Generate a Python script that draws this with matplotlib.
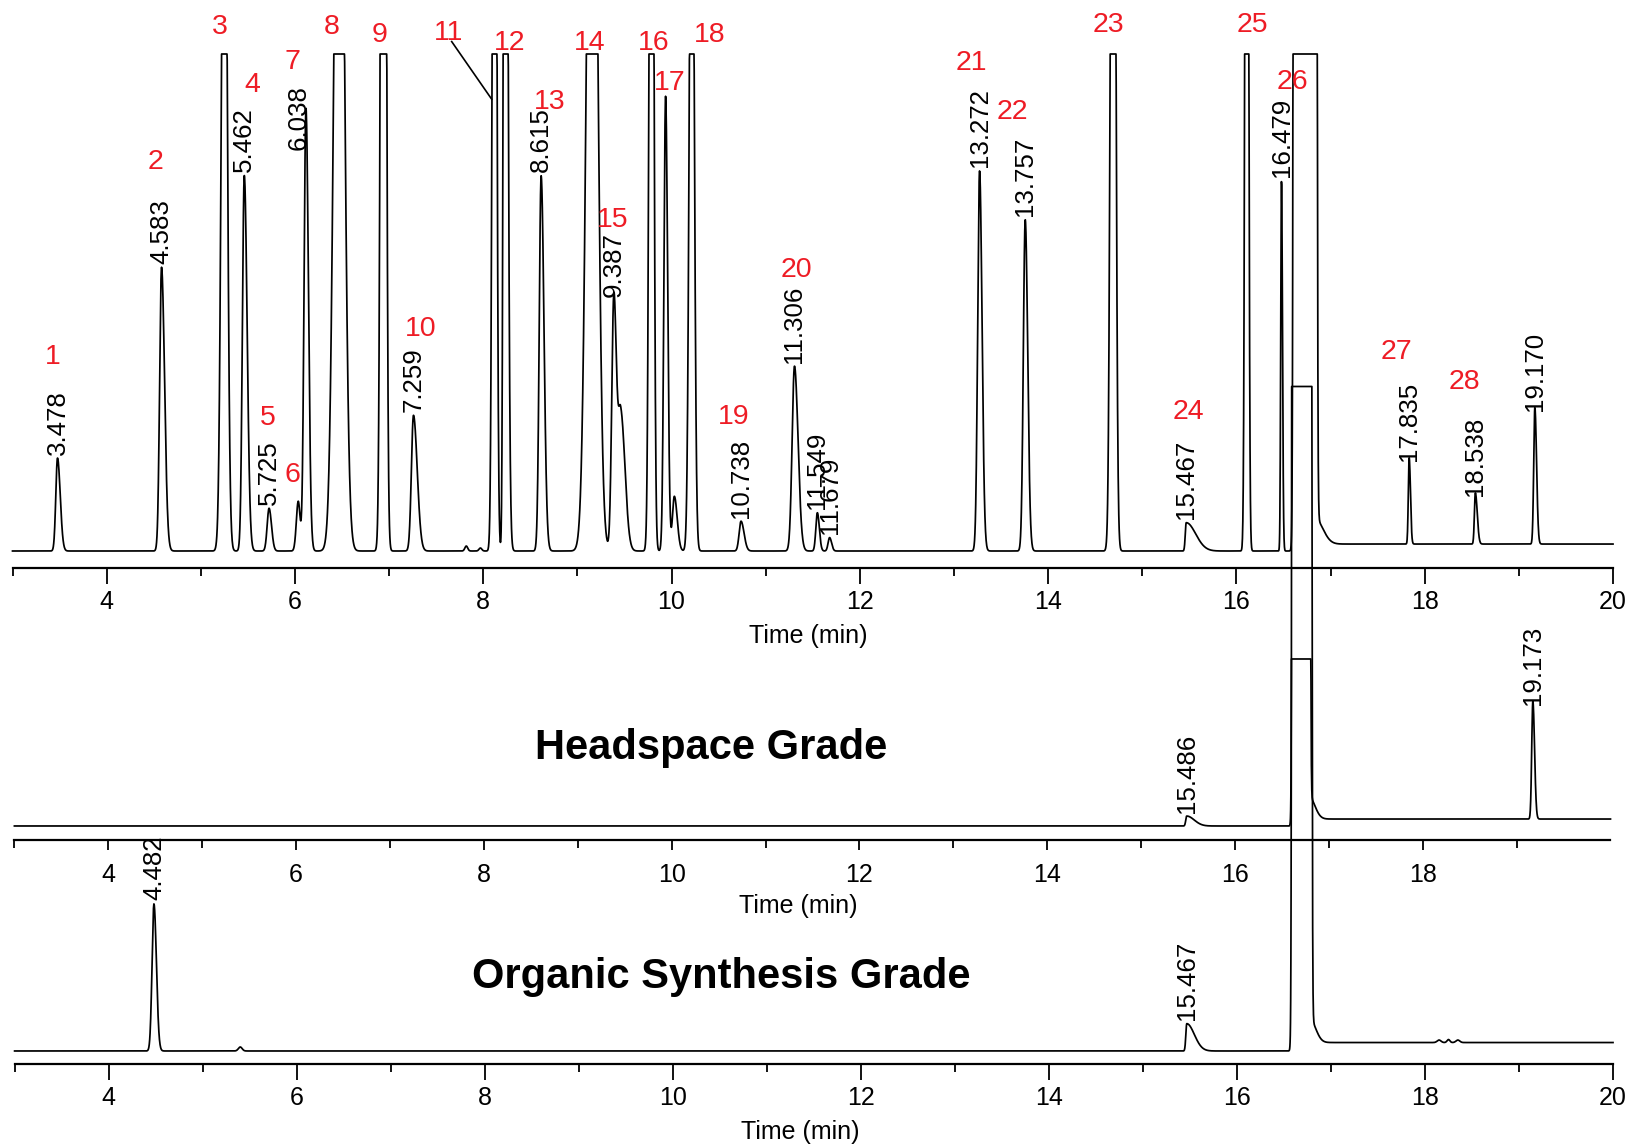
import numpy as np
import matplotlib
matplotlib.use("Agg")
import matplotlib.pyplot as plt
from matplotlib.ticker import FixedLocator

plt.rcParams['font.family'] = ['Liberation Sans', 'DejaVu Sans']

# ---- peak tables (time in min, height in display units) ----
# top: 28-component standard (clip level of the display = 100)
top_rt = [3.478, 4.583, 5.25, 5.462, 5.725, 6.035, 6.117, 6.47, 6.94, 7.259,
          7.82, 7.97, 8.12, 8.23, 8.615, 9.157, 9.387, 9.46, 9.787, 9.937,
          10.03, 10.215, 10.738, 11.306, 11.549, 11.679, 13.272, 13.757, 14.69,
          15.467, 16.11, 16.479, 16.73, 16.84, 17.835, 18.538, 19.17]
top_height = [18.7, 57.1, 178, 75.6, 8.6, 10.0, 89.1, 198, 395, 27.3,
              1.0, 0.6, 282, 300, 75.5, 203, 50.5, 28, 266, 91.5,
              11, 178, 6.0, 37.2, 7.7, 2.7, 76.5, 66.7, 275,
              5.7, 340, 74.5, 1e8, 5.0, 17.4, 10.3, 27.5]
top_sigma = [0.018, 0.02, 0.028, 0.02, 0.02, 0.02, 0.02, 0.049, 0.0217, 0.022,
             0.015, 0.015, 0.0188, 0.0135, 0.02, 0.052, 0.022, 0.03, 0.02, 0.018,
             0.02, 0.0233, 0.02, 0.025, 0.016, 0.016, 0.02, 0.02, 0.0225,
             0.01, 0.0147, 0.008, 0.0247, 0.005, 0.009, 0.01, 0.012]
top_tail = [1.6, 1.6, 1.0, 1.5, 1.3, 1.0, 1.3, 1.0, 1.0, 1.8,
            1.0, 1.0, 1.0, 1.8, 1.5, 1.0, 1.2, 1.5, 1.0, 1.2,
            1.5, 1.0, 1.6, 1.5, 1.3, 1.3, 1.3, 1.3, 1.0,
            10, 1.0, 1.3, 1.0, 16, 1.5, 2.0, 1.5]
top_clip = 100
top_solvent = 16.73
top_base_after = 1.4

# headspace grade
mid_rt = [15.486, 16.705, 16.79, 19.173]
mid_height = [2.0, 1e8, 4.5, 23.7]
mid_sigma = [0.01, 0.019, 0.005, 0.012]
mid_tail = [8, 1.0, 12, 1.5]
mid_clip = 33.6
mid_solvent = 16.705
mid_base_after = 1.4

# organic synthesis grade
bot_rt = [4.482, 5.40, 15.467, 16.69, 16.78, 18.15, 18.25, 18.35]
bot_height = [29.6, 0.8, 5.5, 1e8, 4.5, 0.5, 0.6, 0.5]
bot_sigma = [0.02, 0.02, 0.01, 0.0208, 0.005, 0.02, 0.015, 0.02]
bot_tail = [1.3, 1.0, 8, 1.0, 12, 1.0, 1.0, 1.0]
bot_clip = 133.7
bot_solvent = 16.69
bot_base_after = 1.7

# retention time labels (text, height of label foot)
top_rt_labels = ['3.478', '4.583', '5.462', '5.725', '6.038', '7.259', '8.615',
                 '9.387', '10.738', '11.306', '11.549', '11.679', '13.272',
                 '13.757', '15.467', '16.479', '17.835', '18.538', '19.170']
top_rt_label_h = [18.7, 57.1, 75.6, 8.6, 79.9, 27.3, 75.5, 50.5, 6.0, 37.2,
                  7.7, 2.7, 76.5, 66.7, 5.7, 74.5, 17.4, 10.3, 27.5]
mid_rt_labels = ['15.486', '19.173']
mid_rt_label_h = [2.0, 23.7]
bot_rt_labels = ['4.482', '15.467']
bot_rt_label_h = [29.6, 5.5]

# red peak numbers
num_t = [3.425, 4.524, 5.204, 5.542, 5.713, 5.969, 5.969, 6.394, 6.903, 7.339,
         7.629, 8.284, 8.709, 9.134, 9.380, 9.809, 9.976, 10.404, 10.659, 11.332,
         13.185, 13.621, 14.645, 15.492, 16.174, 16.597, 17.703, 18.420]
num_h = [39.0, 78.2, 105.5, 93.8, 26.8, 15.3, 98.3, 105.5, 103.9, 44.7,
         104.2, 102.2, 90.4, 102.2, 66.5, 102.2, 94.2, 103.9, 27.0, 56.5,
         98.1, 88.4, 105.8, 28.0, 105.8, 94.4, 40.1, 34.1]
leader_11 = ([7.665, 8.09], [102.5, 90.9])

time = np.linspace(3, 20, 8000)


def build_trace(rts, heights, sigmas, tails, solvent, base_after, clip):
    y = np.zeros_like(time)
    for t0, h, s, k in zip(rts, heights, sigmas, tails):
        sd = np.where(time < t0, s, s * k)
        y += h * np.exp(-0.5 * ((time - t0) / sd) ** 2)
    y += np.where(time > solvent, base_after, 0.0)
    return np.minimum(y, clip)


fig = plt.figure(figsize=(16.33, 11.47), dpi=100)
W, H = 1633.0, 1147.0
# axes boxes in pixels: left, right, axis-line y, top y
ax_top = fig.add_axes([12.5 / W, 1 - 567.5 / H, 1600.5 / W, 513.5 / H])
ax_mid = fig.add_axes([14.4 / W, 1 - 839.5 / H, 1596.1 / W, 248.5 / H])
ax_bot = fig.add_axes([14.6 / W, 1 - 1064.4 / H, 1598.4 / W, 248.5 / H])

ax_top.set_ylim(-3.32, 100)
ax_mid.set_ylim(-2.72, 47.28)
ax_bot.set_ylim(-2.70, 47.30)

traces = [
    (ax_top, build_trace(top_rt, top_height, top_sigma, top_tail, top_solvent, top_base_after, top_clip)),
    (ax_mid, build_trace(mid_rt, mid_height, mid_sigma, mid_tail, mid_solvent, mid_base_after, mid_clip)),
    (ax_bot, build_trace(bot_rt, bot_height, bot_sigma, bot_tail, bot_solvent, bot_base_after, bot_clip)),
]

for ax, y in traces:
    ax.set_facecolor('none')
    ax.plot(time, y, color='black', lw=1.25, clip_on=False)
    ax.set_xlim(3, 20)
    for s in ['left', 'right', 'top']:
        ax.spines[s].set_visible(False)
    ax.spines['bottom'].set_linewidth(1.6)
    ax.set_yticks([])
    ax.xaxis.set_minor_locator(FixedLocator([3, 5, 7, 9, 11, 13, 15, 17, 19]))
    ax.tick_params(axis='x', which='both', direction='out', width=1.3, labelsize=18)

ax_top.set_xticks([4, 6, 8, 10, 12, 14, 16, 18, 20])
ax_bot.set_xticks([4, 6, 8, 10, 12, 14, 16, 18, 20])
ax_mid.set_xticks([4, 6, 8, 10, 12, 14, 16, 18])
ax_top.tick_params(axis='x', which='major', length=11.5, pad=5)
ax_top.tick_params(axis='x', which='minor', length=5.5)
ax_mid.tick_params(axis='x', which='major', length=7.2, pad=10)
ax_mid.tick_params(axis='x', which='minor', length=5.8)
ax_bot.tick_params(axis='x', which='major', length=11.5, pad=4)
ax_bot.tick_params(axis='x', which='minor', length=5.5)

for ax, xl, yl in [(ax_top, 0.497, -0.1334), (ax_mid, 0.491, -0.2676), (ax_bot, 0.4917, -0.272)]:
    ax.set_xlabel('Time (min)', fontsize=18)
    ax.xaxis.set_label_coords(xl, yl)
    ax.xaxis.label.set_va('center')

# retention time labels
for ax, labels, hts in [(ax_top, top_rt_labels, top_rt_label_h),
                        (ax_mid, mid_rt_labels, mid_rt_label_h),
                        (ax_bot, bot_rt_labels, bot_rt_label_h)]:
    for lab, h in zip(labels, hts):
        ax.annotate(lab, (float(lab), h), xytext=(0, 2.5), textcoords='offset points',
                    rotation=90, ha='center', va='bottom', fontsize=18.6,
                    color='black', annotation_clip=False)

# red peak numbers
for i, (t, h) in enumerate(zip(num_t, num_h)):
    ax_top.text(t, h, str(i + 1), color='#EE1C25', fontsize=20.5,
                ha='center', va='center', clip_on=False)
ax_top.plot(leader_11[0], leader_11[1], color='black', lw=1.2, clip_on=False)

ax_mid.text(10.42, 15.7, 'Headspace Grade', fontsize=30, fontweight='bold',
            ha='center', va='center')
ax_bot.text(10.52, 14.9, 'Organic Synthesis Grade', fontsize=30, fontweight='bold',
            ha='center', va='center')

fig.savefig('out.png', dpi=100)
